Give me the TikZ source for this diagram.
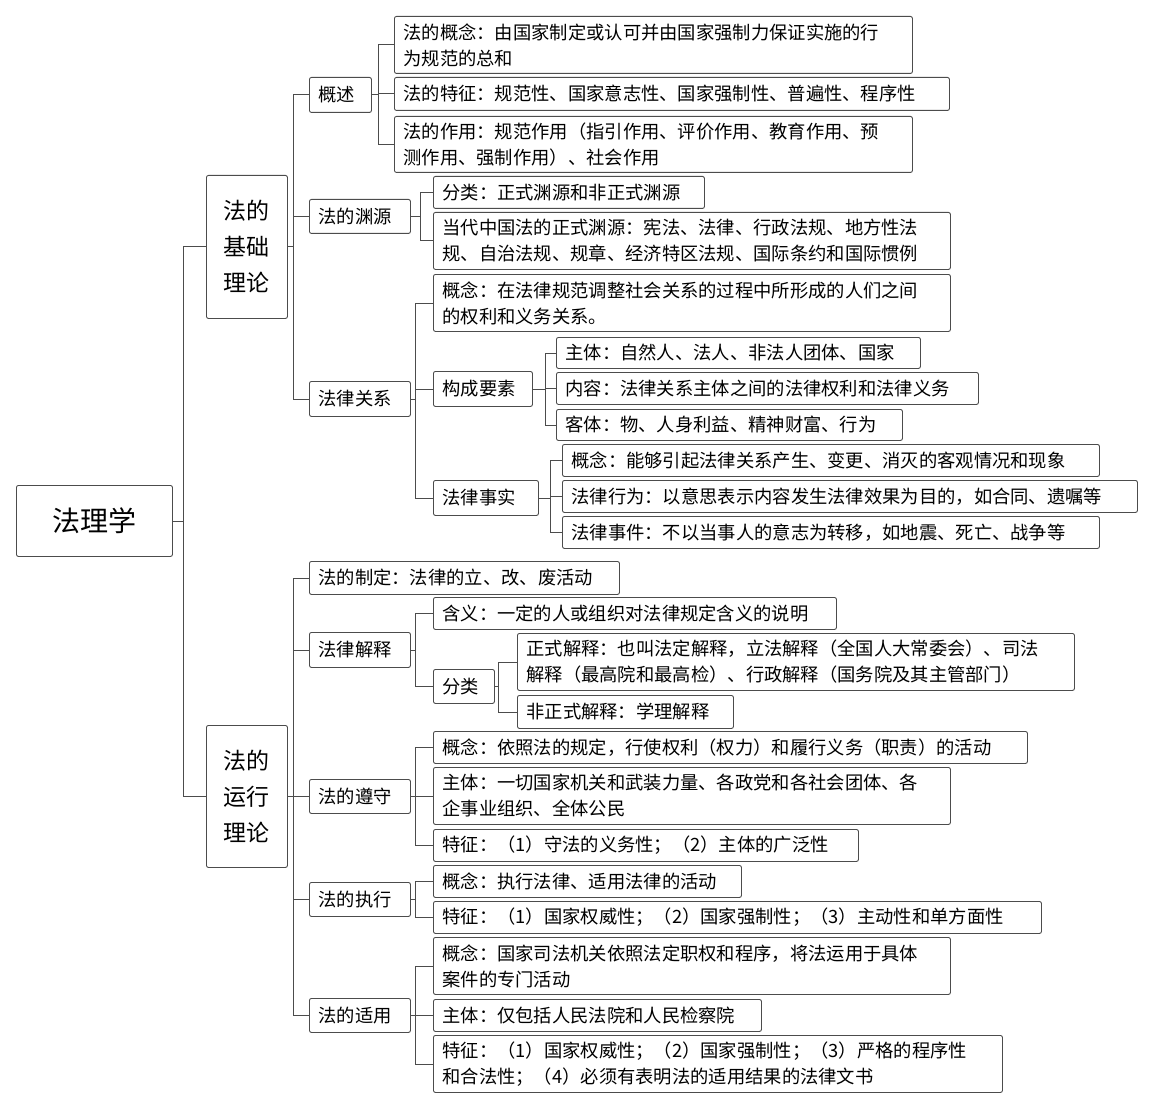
\documentclass[tikz,border=0pt]{standalone}
\usepackage{fontspec}
\setmainfont{Noto Sans CJK SC}
\begin{document}
\begin{tikzpicture}[x=1pt,y=-1pt,
  b/.style={draw=black!70,rounded corners=2pt,line width=0.9pt,anchor=north west,inner xsep=9pt,inner ysep=0pt,align=left,font=\fontsize{18.3}{26}\selectfont},
  c/.style={draw=black!70,line width=0.9pt}]
\useasboundingbox (0,0) rectangle (1154,1110);
\newcommand\bx[6]{\node[b,text width=#4-#2-18,minimum height=#5-#3] (#1) at (#2,#3) {#6};}
% root
\node[b,align=center,text width=138,minimum height=71,font=\fontsize{28}{34}\selectfont] (root) at (16,485) {法理学};
\node[b,align=center,text width=63,minimum height=143,font=\fontsize{23}{36}\selectfont] (ji) at (206,175) {法的\\基础\\理论};
\node[b,align=center,text width=63,minimum height=142,font=\fontsize{23}{36}\selectfont] (yx) at (206,725) {法的\\运行\\理论};
% level 2 basic
\bx{gs}{309}{77}{371}{112}{概述}
\bx{yy}{309}{199}{410}{233}{法的渊源}
\bx{gx}{309}{381}{410}{416}{法律关系}
\bx{a1}{394}{16}{912}{73}{法的概念：由国家制定或认可并由国家强制力保证实施的行\\为规范的总和}
\bx{a2}{394}{77}{949}{110}{法的特征：规范性、国家意志性、国家强制性、普遍性、程序性}
\bx{a3}{394}{116}{912}{172}{法的作用：规范作用（指引作用、评价作用、教育作用、预\\测作用、强制作用）、社会作用}
\bx{b1}{433}{176}{704}{208}{分类：正式渊源和非正式渊源}
\bx{b2}{433}{212}{950}{269}{当代中国法的正式渊源：宪法、法律、行政法规、地方性法\\规、自治法规、规章、经济特区法规、国际条约和国际惯例}
\bx{c1}{433}{274}{950}{331}{概念：在法律规范调整社会关系的过程中所形成的人们之间\\的权利和义务关系。}
\bx{gc}{433}{371}{532}{406}{构成要素}
\bx{ss}{433}{480}{538}{515}{法律事实}
\bx{d1}{556}{337}{920}{368}{主体：自然人、法人、非法人团体、国家}
\bx{d2}{556}{372}{978}{404}{内容：法律关系主体之间的法律权利和法律义务}
\bx{d3}{556}{409}{902}{440}{客体：物、人身利益、精神财富、行为}
\bx{e1}{562}{444}{1099}{476}{概念：能够引起法律关系产生、变更、消灭的客观情况和现象}
\bx{e2}{562}{480}{1137}{512}{法律行为：以意思表示内容发生法律效果为目的，如合同、遗嘱等}
\bx{e3}{562}{516}{1099}{548}{法律事件：不以当事人的意志为转移，如地震、死亡、战争等}
% running
\bx{zd}{309}{561}{619}{594}{法的制定：法律的立、改、废活动}
\bx{js}{309}{632}{410}{667}{法律解释}
\bx{zs}{309}{779}{410}{813}{法的遵守}
\bx{zx}{309}{882}{410}{916}{法的执行}
\bx{sy}{309}{998}{410}{1032}{法的适用}
\bx{f1}{433}{597}{836}{629}{含义：一定的人或组织对法律规定含义的说明}
\bx{fl}{433}{669}{494}{703}{分类}
\bx{g1}{517}{633}{1074}{690}{正式解释：也叫法定解释，立法解释（全国人大常委会）、司法\\解释（最高院和最高检）、行政解释（国务院及其主管部门）}
\bx{g2}{517}{695}{733}{728}{非正式解释：学理解释}
\bx{h1}{433}{731}{1027}{763}{概念：依照法的规定，行使权利（权力）和履行义务（职责）的活动}
\bx{h2}{433}{767}{950}{824}{主体：一切国家机关和武装力量、各政党和各社会团体、各\\企事业组织、全体公民}
\bx{h3}{433}{829}{858}{861}{特征：（1）守法的义务性；（2）主体的广泛性}
\bx{i1}{433}{865}{741}{897}{概念：执行法律、适用法律的活动}
\bx{i2}{433}{901}{1041}{933}{特征：（1）国家权威性；（2）国家强制性；（3）主动性和单方面性}
\bx{j1}{433}{937}{950}{994}{概念：国家司法机关依照法定职权和程序，将法运用于具体\\案件的专门活动}
\bx{j2}{433}{999}{761}{1031}{主体：仅包括人民法院和人民检察院}
\bx{j3}{433}{1035}{1002}{1092}{特征：（1）国家权威性；（2）国家强制性；（3）严格的程序性\\和合法性；（4）必须有表明法的适用结果的法律文书}
% connectors
\foreach \p/\d/\cs in {root/11/{ji,yx}, ji/6/{gs,yy,gx}, yx/6/{zd,js,zs,zx,sy},
  gs/7/{a1,a2,a3}, yy/10/{b1,b2}, gx/5/{c1,gc,ss}, gc/13/{d1,d2,d3}, ss/12/{e1,e2,e3},
  js/5/{f1,fl}, fl/4/{g1,g2}, zs/5/{h1,h2,h3}, zx/5/{i1,i2}, sy/5/{j1,j2,j3}}
  \foreach \ch in \cs
    \draw[c] (\p.east) -- ([xshift=\d]\p.east) |- (\ch.west);
\end{tikzpicture}
\end{document}
